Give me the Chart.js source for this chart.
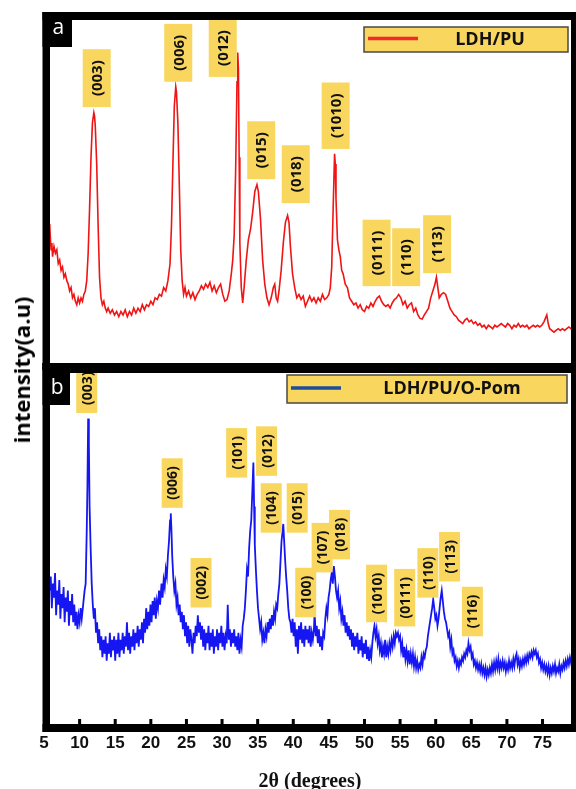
<!DOCTYPE html>
<html lang="en">
<head>
<meta charset="UTF-8">
<title>XRD LDH/PU and LDH/PU/O-Pom</title>
<script src="https://cdn.jsdelivr.net/npm/chart.js"></script>
<style>
  body { margin: 0; background: #fff; overflow: hidden; }
  #wrap { position: relative; width: 576px; height: 789px; overflow: hidden; }
  canvas { position: absolute; left: 0; }
  #ytitle {
    position: absolute; left: 21px; top: 370px;
    transform: translate(-50%, -50%) rotate(-90deg);
    font: bold 22px "Open Sans", sans-serif; white-space: nowrap; color: #000;
  }
</style>
</head>
<body>
<div id="wrap">
  <canvas id="topChart" width="576" height="380" style="top:0"></canvas>
  <canvas id="botChart" width="576" height="430" style="top:363px"></canvas>
  <div id="ytitle">intensity(a.u)</div>
</div>
<script>
// x ticks (2θ, degrees)
const xTicks = [5, 10, 15, 20, 25, 30, 35, 40, 45, 50, 55, 60, 65, 70, 75];
const seriesNames = ['LDH/PU', 'LDH/PU/O-Pom'];

// LDH/PU pattern [2θ, intensity]
const redPoints = [
  [5.7,38],[5.8,40.5],[5.9,36],[6.0,33],[6.1,35],[6.2,31],[6.4,34],[6.6,32],[6.8,33],[7.0,29],
  [7.2,30],[7.4,27],[7.6,28],[7.8,25],[8.0,26],[8.2,24],[8.4,23],[8.6,21],[8.8,22],[9.0,19],
  [9.2,20],[9.4,18],[9.6,17],[9.8,19],[10.0,17.5],[10.2,19],[10.4,18],[10.6,20],[10.8,21],[11.0,24],
  [11.2,32],[11.4,45],[11.6,60],[11.8,70],[12.0,73],[12.1,72],[12.2,69],[12.4,58],[12.6,40],[12.8,25],
  [13.0,19],[13.2,17],[13.4,18],[13.6,16],[13.8,15],[14.0,16],[14.3,14.5],[14.6,15.5],[14.9,14],[15.2,15],
  [15.5,13.5],[15.8,15],[16.1,14],[16.4,15.5],[16.7,13.5],[17.0,15],[17.3,14],[17.6,16],[17.9,14.5],[18.2,16],
  [18.5,15],[18.8,17],[19.1,15.5],[19.4,17],[19.7,16.5],[20.0,18],[20.3,17],[20.6,19],[20.9,18.5],[21.2,20],
  [21.5,19.5],[21.8,22],[22.1,21],[22.4,24],[22.7,29],[22.9,40],[23.1,58],[23.3,75],[23.5,80.5],[23.6,79],
  [23.8,70],[24.0,52],[24.2,33],[24.4,24],[24.6,20],[24.8,22],[25.0,19.5],[25.3,21],[25.6,19],[25.9,20.5],
  [26.2,18.5],[26.5,20],[26.8,21],[27.1,22.5],[27.4,21.5],[27.7,23],[28.0,22],[28.3,23.5],[28.6,21],[28.9,22.5],
  [29.2,20.5],[29.5,22],[29.8,23],[30.1,20],[30.4,18],[30.7,18.5],[31.0,21],[31.3,26],[31.5,30],[31.7,37],
  [31.9,55],[32.1,82],[32.2,90.5],[32.3,86],[32.4,60],[32.5,35],[32.7,22],[32.9,17.5],[33.1,22],[33.4,30],
  [33.7,36],[34.0,39],[34.3,44],[34.6,50],[34.9,52],[35.1,50],[35.4,42],[35.7,30],[36.0,23],[36.3,19],
  [36.6,17],[36.9,19],[37.2,22],[37.4,23],[37.6,19],[37.8,18],[38.0,21],[38.3,27],[38.6,35],[38.9,41],
  [39.2,43],[39.4,41],[39.6,34],[39.9,26],[40.2,22],[40.5,19],[40.8,20],[41.1,18.5],[41.4,19.5],[41.7,16.5],
  [42.0,18],[42.3,19.5],[42.6,18],[42.9,19],[43.2,17.5],[43.5,19],[43.8,18],[44.1,20],[44.4,18.5],[44.7,19],
  [45.0,20],[45.2,22],[45.4,28],[45.6,45],[45.8,61],[45.9,58],[46.0,48],[46.2,36],[46.4,33],[46.6,31],
  [46.8,27],[47.0,26],[47.3,23],[47.6,22],[47.9,19],[48.2,18],[48.5,17],[48.8,17.5],[49.1,16],[49.4,17],
  [49.7,15.5],[50.0,15],[50.3,16.5],[50.6,16],[50.9,17.5],[51.2,16.5],[51.5,18],[51.8,19],[52.1,19.5],[52.4,18],
  [52.7,17],[53.0,16.5],[53.3,17],[53.6,16],[53.9,17.5],[54.2,18.5],[54.5,19],[54.8,20],[55.1,19],[55.4,17],
  [55.7,18],[56.0,16],[56.3,17],[56.6,17.5],[56.9,15],[57.2,16],[57.5,14],[57.8,13],[58.1,12.8],[58.4,14],
  [58.7,15],[59.0,16],[59.3,19],[59.6,21],[59.9,23],[60.1,25],[60.3,22],[60.5,19],[60.8,20],[61.1,20.5],
  [61.4,20],[61.7,18],[62.0,16],[62.3,15],[62.6,14],[62.9,13.5],[63.2,12.5],[63.5,12],[63.8,11.5],[64.1,12.5],
  [64.4,13],[64.7,12],[65.0,12.5],[65.3,11.5],[65.6,12],[65.9,11],[66.2,11.5],[66.5,10.5],[66.8,11],[67.1,10],
  [67.4,11],[67.7,10.5],[68.0,10],[68.3,11],[68.6,10.5],[68.9,11],[69.2,11.5],[69.5,11],[69.8,10.5],[70.1,11.5],
  [70.4,11],[70.7,10],[71.0,11],[71.3,10.5],[71.6,11.5],[71.9,10.5],[72.2,11],[72.5,10.5],[72.8,11],[73.1,10],
  [73.4,10.5],[73.7,11],[74.0,10.5],[74.3,11],[74.6,10.5],[74.9,11],[75.2,12],[75.4,13],[75.6,14],[75.8,11.5],
  [76.0,10],[76.3,9.5],[76.6,9],[76.9,9.5],[77.2,10],[77.5,9.5],[77.8,10],[78.1,9.5],[78.4,10],[78.7,10.5],
  [79.0,10],[79.3,10.5]
];

// LDH/PU/O-Pom pattern [2θ, intensity]
const bluePoints = [
  [5.8,38],[5.95,42],[6.1,33],[6.25,40],[6.4,36],[6.55,43],[6.7,31],[6.85,38],[7.0,34],[7.15,41],
  [7.3,30],[7.45,37],[7.6,33],[7.75,39],[7.9,29],[8.05,36],[8.2,32],[8.35,38],[8.5,28],[8.65,35],
  [8.8,31],[8.95,37],[9.1,29],[9.25,34],[9.4,28],[9.55,32],[9.7,27],[9.85,31],[10.0,29],[10.15,33],
  [10.3,30],[10.5,34],[10.7,38],[10.85,40],[11.0,55],[11.1,68],[11.2,87],[11.3,80],[11.4,62],[11.55,50],
  [11.7,40],[11.85,34],[12.0,30],[12.15,33],[12.3,26],[12.45,29],[12.6,23],[12.75,27],[12.9,21],[13.05,25],
  [13.2,19],[13.35,24],[13.5,20],[13.65,25],[13.8,18],[13.95,23],[14.1,20],[14.25,26],[14.4,19],[14.55,24],
  [14.7,21],[14.85,25],[15.0,18],[15.15,24],[15.3,20],[15.45,26],[15.6,19],[15.75,24],[15.9,21],[16.05,26],
  [16.2,20],[16.35,25],[16.5,22],[16.65,29],[16.8,21],[16.95,26],[17.1,20],[17.25,25],[17.4,22],[17.55,27],
  [17.7,21],[17.85,26],[18.0,23],[18.15,28],[18.3,22],[18.45,27],[18.6,24],[18.75,29],[18.9,23],[19.05,30],
  [19.2,26],[19.35,33],[19.5,27],[19.65,32],[19.8,28],[19.95,34],[20.1,29],[20.25,35],[20.4,31],[20.55,36],
  [20.7,30],[20.85,35],[21.0,33],[21.15,38],[21.3,34],[21.5,40],[21.65,36],[21.8,41],[21.95,39],[22.1,44],
  [22.25,42],[22.4,48],[22.55,52],[22.7,58],[22.8,60],[22.9,55],[23.0,48],[23.15,42],[23.3,38],[23.45,40],
  [23.6,34],[23.75,36],[23.9,31],[24.05,34],[24.2,29],[24.35,32],[24.5,27],[24.65,31],[24.8,25],[24.95,29],
  [25.1,23],[25.25,28],[25.4,22],[25.55,27],[25.7,24],[25.85,20],[26.0,26],[26.15,23],[26.3,28],[26.45,25],
  [26.6,31],[26.75,26],[26.9,29],[27.05,24],[27.2,28],[27.35,22],[27.5,27],[27.65,21],[27.8,26],[27.95,23],
  [28.1,28],[28.25,21],[28.4,26],[28.55,22],[28.7,27],[28.85,20],[29.0,25],[29.15,22],[29.3,27],[29.45,21],
  [29.6,26],[29.75,23],[29.9,28],[30.05,22],[30.2,26],[30.35,21],[30.5,25],[30.65,23],[30.8,34],[30.95,24],
  [31.1,27],[31.25,22],[31.4,26],[31.55,23],[31.7,27],[31.85,22],[32.0,25],[32.15,21],[32.3,26],[32.45,20],
  [32.6,24],[32.75,22],[32.9,28],[33.05,30],[33.2,33],[33.35,38],[33.5,44],[33.65,42],[33.8,50],[33.95,55],
  [34.1,58],[34.25,66],[34.4,74.5],[34.5,62],[34.6,51],[34.75,44],[34.9,38],[35.05,33],[35.2,30],[35.35,27],
  [35.5,29],[35.65,24],[35.8,26],[35.95,23],[36.1,27],[36.25,25],[36.4,29],[36.55,26],[36.7,30],[36.85,27],
  [37.0,31],[37.15,28],[37.3,32],[37.45,30],[37.6,34],[37.75,33],[37.9,37],[38.05,40],[38.2,46],[38.35,52],
  [38.5,55],[38.6,57],[38.7,53],[38.85,47],[39.0,42],[39.15,38],[39.3,33],[39.45,30],[39.6,29],[39.75,26],
  [39.9,30],[40.05,25],[40.2,29],[40.35,22],[40.5,27],[40.65,20],[40.8,28],[40.95,24],[41.1,29],[41.25,23],
  [41.4,27],[41.55,22],[41.7,28],[41.85,24],[42.0,27],[42.15,23],[42.3,28],[42.45,22],[42.6,26],[42.75,24],
  [42.9,27],[43.0,32],[43.15,25],[43.3,28],[43.45,23],[43.6,27],[43.75,22],[43.9,25],[44.05,21],[44.2,26],
  [44.35,25],[44.5,30],[44.65,33],[44.8,31],[44.95,36],[45.1,38],[45.25,41],[45.4,43],[45.55,40],[45.7,45],
  [45.85,42],[46.0,38],[46.15,36],[46.3,38],[46.45,33],[46.6,35],[46.75,30],[46.9,32],[47.05,28],[47.2,31],
  [47.35,26],[47.5,29],[47.65,25],[47.8,28],[47.95,24],[48.1,27],[48.25,22],[48.4,26],[48.55,21],[48.7,25],
  [48.85,22],[49.0,26],[49.15,20],[49.3,24],[49.45,21],[49.6,25],[49.75,19],[49.9,23],[50.05,20],[50.2,24],
  [50.35,18.5],[50.5,22],[50.65,18],[50.8,21],[50.95,19],[51.1,23],[51.25,26],[51.4,28],[51.55,25],[51.7,27],
  [51.85,23],[52.0,25],[52.15,21],[52.3,23],[52.45,19],[52.6,22],[52.75,20],[52.9,24],[53.05,19],[53.2,22],
  [53.35,20],[53.5,23],[53.65,21],[53.8,24],[53.95,22],[54.1,25],[54.25,23],[54.4,26],[54.55,25],[54.7,26],
  [54.85,24],[55.0,25],[55.15,21],[55.3,23],[55.45,19],[55.6,22],[55.75,18.5],[55.9,21],[56.05,18],[56.2,21],
  [56.35,17],[56.5,20],[56.65,17.5],[56.8,20],[56.95,16.5],[57.1,19],[57.25,16],[57.4,18],[57.55,15.5],[57.7,17],
  [57.85,16],[58.0,19],[58.15,17],[58.3,20],[58.45,19],[58.6,21],[58.75,22],[58.9,25],[59.05,27],[59.2,29],
  [59.35,31],[59.5,33],[59.65,35.5],[59.8,33],[59.95,30],[60.1,31],[60.25,28],[60.4,30],[60.55,33],[60.7,36],
  [60.85,38],[61.0,35],[61.15,32],[61.3,30],[61.45,29],[61.6,27],[61.75,25],[61.9,26],[62.05,22],[62.2,24],
  [62.35,20],[62.5,21],[62.65,18],[62.8,19],[62.95,16.5],[63.1,18],[63.25,16],[63.4,18],[63.55,17],[63.7,19],
  [63.85,18],[64.0,20],[64.15,19],[64.3,21],[64.45,20],[64.6,23],[64.75,21],[64.9,22],[65.05,19],[65.2,20],
  [65.35,17],[65.5,18],[65.65,16],[65.8,17.5],[65.95,15.5],[66.1,17],[66.25,15],[66.4,17],[66.55,14.5],[66.7,16],
  [66.85,14],[67.0,16],[67.15,13.5],[67.3,15.5],[67.45,14],[67.6,16],[67.75,14.5],[67.9,17],[68.05,15],[68.2,17.5],
  [68.35,15.5],[68.5,18],[68.65,16],[68.8,18.5],[68.95,15.5],[69.1,17.5],[69.25,16],[69.4,18],[69.55,16],[69.7,17.5],
  [69.85,15],[70.0,17],[70.15,15.5],[70.3,18],[70.45,16],[70.6,17.5],[70.75,16],[70.9,18.5],[71.05,16.5],[71.2,19],
  [71.35,20],[71.5,17],[71.65,18.5],[71.8,16],[71.95,18],[72.1,16.5],[72.25,18.5],[72.4,17],[72.55,19],[72.7,17.5],
  [72.85,19.5],[73.0,18],[73.15,20],[73.3,19],[73.45,20.5],[73.6,19],[73.75,21],[73.9,20],[74.05,21],[74.2,19],
  [74.35,20],[74.5,17.5],[74.65,18.5],[74.8,16],[74.95,17.5],[75.1,15.5],[75.25,17],[75.4,15],[75.55,16.5],[75.7,14.5],
  [75.85,16.5],[76.0,14],[76.15,16],[76.3,14.5],[76.45,16.5],[76.6,15],[76.75,17],[76.9,14.5],[77.05,16],[77.2,15],
  [77.35,17],[77.5,14.5],[77.65,16.5],[77.8,15.5],[77.95,17.5],[78.1,16],[78.25,18],[78.4,16.5],[78.55,18.5],[78.7,17],
  [78.85,19],[79.0,17.5],[79.15,19.5],[79.3,18]
];

// peak labels: text, 2θ position, intensity at the bottom of the tag
const topTags = ['(003)', '(006)', '(012)', '(015)', '(018)', '(1010)', '(0111)', '(110)', '(113)'];
const topTagX = [12.4, 23.85, 30.1, 35.5, 40.35, 45.95, 51.7, 55.85, 60.2];
const topTagY = [74.6, 82, 83.4, 53.6, 46.6, 62.4, 22.4, 22.4, 26.2];

const botTags = ['(003)', '(006)', '(002)', '(101)', '(012)', '(104)', '(015)', '(100)', '(107)', '(018)', '(1010)', '(0111)', '(110)', '(113)', '(116)'];
const botTagX = [11.0, 23.0, 27.05, 32.05, 36.25, 36.9, 40.55, 41.75, 44.05, 46.5, 51.7, 55.65, 58.9, 61.95, 65.15];
const botTagY = [88.6, 61.6, 33.2, 70.2, 70.7, 54.5, 54.5, 30.4, 43.2, 46.9, 29, 27.8, 36, 40.6, 25];

const tagYellow = '#f9d75f';

// frame, panel letter, tags and legend box
const panelDeco = {
  id: 'panelDeco',
  afterDatasetsDraw(chart, args, o) {
    const ctx = chart.ctx, xs = chart.scales.x, ys = chart.scales.y;
    ctx.save();
    ctx.font = 'bold ' + o.tagFont + 'px "Open Sans", sans-serif';
    o.tags.forEach((t, i) => {
      const px = xs.getPixelForValue(o.tagX[i]);
      const py = ys.getPixelForValue(o.tagY[i]);
      const h = ctx.measureText(t).width + 2 * o.tagPad;
      ctx.fillStyle = tagYellow;
      ctx.fillRect(px - o.tagW / 2, py - h, o.tagW, h);
      ctx.save();
      ctx.translate(px, py - h / 2);
      ctx.rotate(-Math.PI / 2);
      ctx.fillStyle = '#111';
      ctx.textAlign = 'center';
      ctx.textBaseline = 'middle';
      ctx.fillText(t, 0, 1);
      ctx.restore();
    });
    ctx.restore();
  },
  afterDraw(chart, args, o) {
    const ctx = chart.ctx;
    const f = o.frame; // outer [left, top, right, bottom]
    ctx.save();
    ctx.fillStyle = '#000';
    ctx.fillRect(f[0], f[1], f[2] - f[0], o.tTop);
    ctx.fillRect(f[0], f[3] - o.tBot, f[2] - f[0], o.tBot);
    ctx.fillRect(f[0], f[1], 7.5, f[3] - f[1]);
    ctx.fillRect(571, f[1], f[2] - 571, f[3] - f[1]);

    // tick marks on the inner side of the bottom border
    if (o.ticks) {
      const xs = chart.scales.x;
      xTicks.slice(1).forEach(v => {
        const px = xs.getPixelForValue(v);
        ctx.fillRect(px - 1.5, f[3] - o.tBot - 5, 3, 6);
      });
    }

    // panel letter
    const b = o.letterBox;
    ctx.fillRect(b[0], b[1], b[2] - b[0], b[3] - b[1]);
    ctx.fillStyle = '#fff';
    ctx.font = '21px "Open Sans", sans-serif';
    ctx.textAlign = 'center';
    ctx.textBaseline = 'middle';
    ctx.fillText(o.letter, (b[0] + b[2]) / 2 + 1, (b[1] + b[3]) / 2 - 1);

    // legend box
    const L = o.legend;
    ctx.fillStyle = tagYellow;
    ctx.fillRect(L[0], L[1], L[2] - L[0], L[3] - L[1]);
    ctx.strokeStyle = '#4a4a40';
    ctx.lineWidth = 1.5;
    ctx.strokeRect(L[0], L[1], L[2] - L[0], L[3] - L[1]);
    const ly = (L[1] + L[3]) / 2 - 1;
    ctx.strokeStyle = o.legendColor;
    ctx.lineWidth = 3.5;
    ctx.beginPath();
    ctx.moveTo(L[0] + 4, ly);
    ctx.lineTo(L[0] + 54, ly);
    ctx.stroke();
    ctx.fillStyle = '#111';
    ctx.font = 'bold 18px "Open Sans", sans-serif';
    ctx.textAlign = 'center';
    ctx.fillText(chart.data.datasets[0].label, o.legendTextX, ly + 1);
    ctx.restore();
  }
};

function baseOptions(pad, showX, deco) {
  return {
    responsive: false,
    animation: false,
    layout: { padding: pad },
    plugins: { legend: { display: false }, tooltip: { enabled: false }, panelDeco: deco },
    elements: { point: { radius: 0 } },
    scales: {
      x: {
        type: 'linear', min: 5, max: 79.7,
        display: showX,
        afterBuildTicks: s => { s.ticks = xTicks.map(v => ({ value: v })); },
        afterFit: s => { if (showX) s.height = 69; },
        grid: { display: false, drawTicks: false },
        border: { display: false },
        ticks: {
          padding: 9, color: '#111', maxRotation: 0,
          font: { family: '"Liberation Sans", Arial, sans-serif', size: 17, weight: 'bold' }
        },
        title: {
          display: true, text: '2θ (degrees)', color: '#111',
          font: { family: '"Liberation Serif", serif', size: 20, weight: 'bold', lineHeight: 1 },
          padding: { top: 16, bottom: 1 }
        }
      },
      y: { min: 0, max: 100, display: false }
    }
  };
}

new Chart(document.getElementById('topChart'), {
  type: 'line',
  data: { datasets: [{ label: seriesNames[0], data: redPoints, borderColor: '#f01414', borderWidth: 1.6, tension: 0 }] },
  options: baseOptions({ left: 44, right: 0, top: 20, bottom: 17 }, false, {
    tags: topTags, tagX: topTagX, tagY: topTagY, tagFont: 15, tagPad: 11, tagW: 28,
    frame: [42.5, 12, 576, 370], tTop: 8, tBot: 7, ticks: false,
    letterBox: [42.5, 12, 72, 47], letter: 'a',
    legend: [364, 27, 568, 52], legendColor: '#f42a2a', legendTextX: 490
  }),
  plugins: [panelDeco]
});

new Chart(document.getElementById('botChart'), {
  type: 'line',
  data: { datasets: [{ label: seriesNames[1], data: bluePoints, borderColor: '#1616f2', borderWidth: 1.8, tension: 0 }] },
  options: baseOptions({ left: 44, right: 0, top: 10, bottom: 0 }, true, {
    tags: botTags, tagX: botTagX, tagY: botTagY, tagFont: 14, tagPad: 8, tagW: 21,
    frame: [42.5, 0, 576, 369], tTop: 10, tBot: 8, ticks: true,
    letterBox: [42.5, 10, 70, 42], letter: 'b',
    legend: [287, 12, 567, 40], legendColor: '#1b4f9c', legendTextX: 452
  }),
  plugins: [panelDeco]
});
</script>
</body>
</html>
